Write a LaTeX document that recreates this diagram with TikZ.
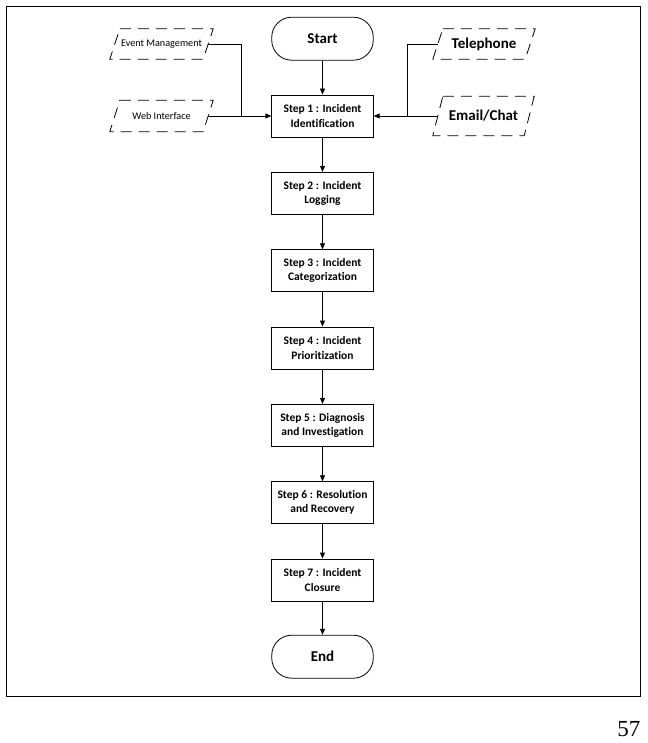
\documentclass[tikz,border=0pt]{standalone}
\usepackage{fontspec}
\setmainfont{Carlito}[Ligatures=CommonOff]
\newfontfamily\pagefont{Liberation Serif}
\usetikzlibrary{arrows.meta,calc}
\begin{document}
\begin{tikzpicture}[x=1pt,y=-1pt,
  stepbox/.style={draw, line width=0.8pt, minimum width=101.5pt, minimum height=42pt, inner sep=0pt,
    align=center, font=\fontsize{11.5}{14.3}\selectfont\bfseries},
  termbox/.style={draw, line width=0.8pt, rounded corners=20pt, minimum width=101.5pt, minimum height=43pt,
    inner sep=0pt, font=\fontsize{15}{18}\selectfont\bfseries},
  inbox/.style={inner sep=0pt, minimum height=30pt},
  dashbox/.style={line width=0.8pt, dash pattern=on 11pt off 7pt},
  conn/.style={line width=0.8pt},
  arr/.style={line width=0.8pt, -{Triangle[length=6pt,width=5pt]}}
]
\useasboundingbox (0,0) rectangle (647,743);
\draw[line width=0.9pt] (6.3,6.3) rectangle (640.5,696);

\node[termbox] (start) at (322.5,38.7) {Start};
\node[stepbox] (s1) at (322.5,116) {Step 1 : Incident\\Identification};
\node[stepbox] (s2) at (322.5,193.3) {Step 2 : Incident\\Logging};
\node[stepbox] (s3) at (322.5,270.7) {Step 3 : Incident\\Categorization};
\node[stepbox] (s4) at (322.5,348) {Step 4 : Incident\\Prioritization};
\node[stepbox] (s5) at (322.5,425.3) {Step 5 : Diagnosis\\and Investigation};
\node[stepbox] (s6) at (322.5,502.7) {Step 6 : Resolution\\and Recovery};
\node[stepbox] (s7) at (322.5,580) {Step 7 : Incident\\Closure};
\node[termbox] (end) at (322.5,656.7) {End};

\node[inbox, minimum width=93pt, font=\fontsize{10.2}{12}\selectfont] (ev) at (161.5,44) {Event Management};
\node[inbox, minimum width=93pt, minimum height=31pt, font=\fontsize{10.2}{12}\selectfont] (web) at (161.5,116) {Web Interface};
\node[inbox, minimum width=92pt, font=\fontsize{15}{18}\selectfont\bfseries] (tel) at (484,44) {Telephone};
\node[inbox, minimum width=91pt, minimum height=39pt, font=\fontsize{15}{18}\selectfont\bfseries] (mail) at (483.5,116) {Email/Chat};

\foreach \n in {ev,web,tel,mail}
  \draw[dashbox] ($(\n.north west)+(5,0)$) -- ($(\n.north east)+(5,0)$) --
    ($(\n.south east)+(-5,0)$) -- ($(\n.south west)+(-5,0)$) -- cycle;

\coordinate (jl) at (241.5,116);
\coordinate (jr) at (407.5,116);
\draw[conn] (ev.east) -| (jl);
\draw[arr] (web.east) -- (s1.west);
\draw[conn] (tel.west) -| (jr);
\draw[arr] (mail.west) -- (s1.east);

\draw[arr] (start) -- (s1);
\draw[arr] (s1) -- (s2);
\draw[arr] (s2) -- (s3);
\draw[arr] (s3) -- (s4);
\draw[arr] (s4) -- (s5);
\draw[arr] (s5) -- (s6);
\draw[arr] (s6) -- (s7);
\draw[arr] (s7) -- (end);

\node[anchor=south east, inner sep=0pt, font=\pagefont\fontsize{23}{23}\selectfont] (pg) at (640.5,737) {57};
\end{tikzpicture}
\end{document}
